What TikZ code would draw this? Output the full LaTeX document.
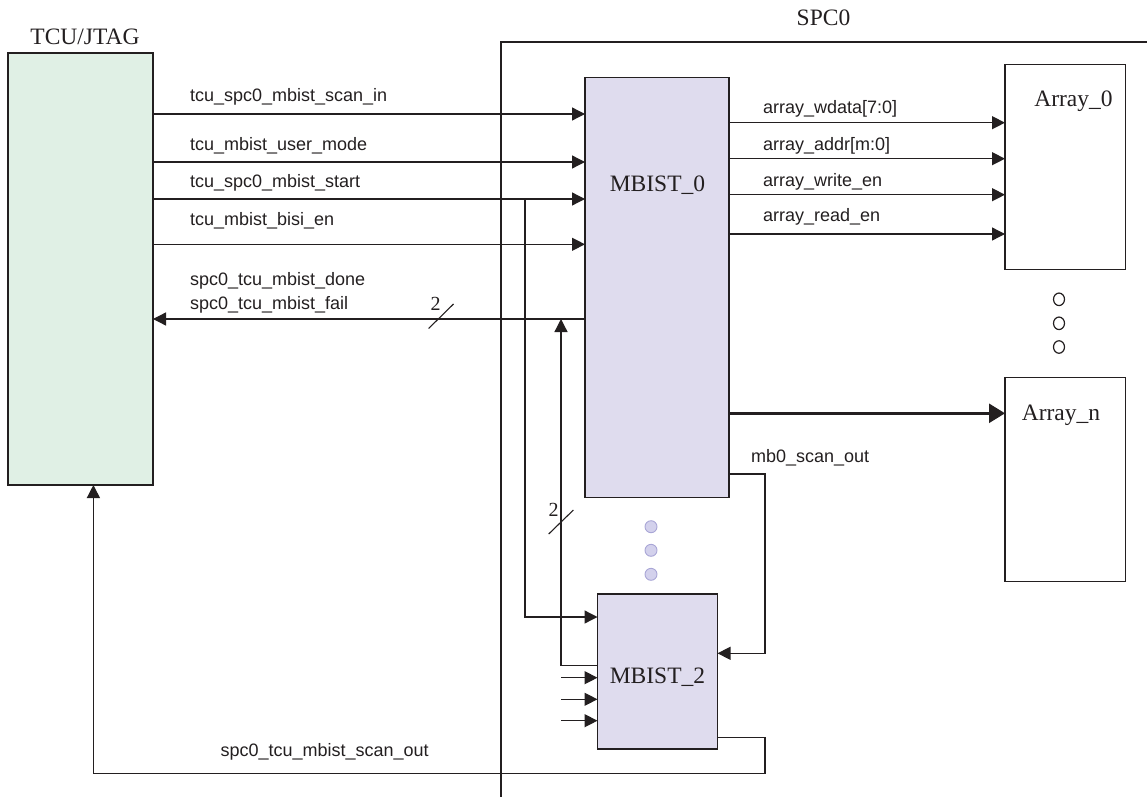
\documentclass[tikz,border=0pt]{standalone}
\usepackage{fontspec}
\setmainfont{Liberation Serif}
\setsansfont{Liberation Sans}
\usetikzlibrary{arrows.meta,shapes.geometric}
\definecolor{tcugreen}{HTML}{E0F0E5}
\definecolor{mbfill}{HTML}{DFDCEE}
\definecolor{dotfill}{HTML}{D3D1EC}
\definecolor{dotline}{HTML}{A9A6D6}
\definecolor{ink}{HTML}{231F20}
\begin{document}
\begin{tikzpicture}[x=1pt,y=-1pt, line width=1.3pt, draw=ink,
  box/.style={draw=ink, line width=1.3pt, inner sep=0pt, outer sep=0pt, anchor=north west},
  ser/.style={font=\fontsize{23.5}{26}\selectfont, inner sep=0pt, text=ink},
  sig/.style={font=\sffamily\fontsize{18}{20}\selectfont, anchor=west, inner sep=0pt, text=ink},
  arr/.style={-{Triangle[length=13pt,width=13pt]}},
  bigarr/.style={line width=2.6pt, -{Triangle[length=16pt,width=19pt]}},
  slash/.style={line width=1.1pt},
  ldot/.style={circle, fill=dotfill, draw=dotline, line width=0.9pt, minimum size=12pt, inner sep=0pt},
  odot/.style={ellipse, draw=ink, line width=1.2pt, minimum width=11pt, minimum height=12.5pt, inner sep=0pt},
]
\useasboundingbox (0,0) rectangle (1147,797);

% SPC0 outline
\draw (1147,42) -- (501,42) -- (501,797);
\node[ser] (spc0lbl) at (823.5,17.5) {SPC0};

% boxes
\node[box, fill=tcugreen, minimum width=145pt, minimum height=432pt] (tcu) at (8,53) {};
\node[ser] (tculbl) at (85,37) {TCU/JTAG};
\node[box, fill=mbfill, minimum width=144pt, minimum height=420pt] (mb0) at (585,77.5) {};
\node[ser] (mb0lbl) at (657.5,185) {MBIST\_0};
\node[box, fill=mbfill, minimum width=120pt, minimum height=155pt] (mb2) at (597.5,594) {};
\node[ser] (mb2lbl) at (657.5,677.5) {MBIST\_2};
\node[box, minimum width=120.5pt, minimum height=205pt] (a0) at (1005,64.5) {};
\node[ser] (a0lbl) at (1073.5,101.5) {Array\_0};
\node[box, minimum width=120.5pt, minimum height=204pt] (an) at (1005,377.5) {};
\node[ser] (anlbl) at (1061,415) {Array\_n};

% inputs to MBIST_0
\draw[arr] (tcu.east |- 0,114) -- (mb0.west |- 0,114);
\draw[arr] (tcu.east |- 0,162) -- (mb0.west |- 0,162);
\draw[arr] (tcu.east |- 0,199) -- (mb0.west |- 0,199);
\draw[arr] (tcu.east |- 0,244.3) -- (mb0.west |- 0,244.3);
\node[sig] (l1) at (189.5,97.3) {tcu\_spc0\_mbist\_scan\_in};
\node[sig] (l2) at (189.5,146) {tcu\_mbist\_user\_mode};
\node[sig] (l3) at (189.5,183) {tcu\_spc0\_mbist\_start};
\node[sig] (l4) at (189.5,221) {tcu\_mbist\_bisi\_en};

% done / fail back to TCU
\draw[arr] (mb0.west |- 0,319) -- (tcu.east |- 0,319);
\node[sig] (l5) at (189.5,281) {spc0\_tcu\_mbist\_done};
\node[sig] (l6) at (189.5,305) {spc0\_tcu\_mbist\_fail};
\draw[slash] (428.6,328.5) -- (453.5,304);
\node[font=\fontsize{20}{22}\selectfont, inner sep=0pt, text=ink] (n2a) at (435.5,304) {2};

% start fan-out to MBIST_2
\coordinate (j1) at (525,199);
\draw[arr] (j1) -- (525,617) -- (mb2.west |- 0,617);
% MBIST_2 done/fail up
\coordinate (j2) at (561,319);
\draw[arr] (mb2.west |- 0,665.7) -- (561,665.7) -- (j2);
\draw[slash] (548.7,534) -- (573.4,510);
\node[font=\fontsize{20}{22}\selectfont, inner sep=0pt, text=ink] (n2b) at (553.6,510) {2};

% other MBIST_2 inputs
\coordinate (i1) at (561,677.7);
\coordinate (i2) at (561,699.3);
\coordinate (i3) at (561,720.7);
\draw[arr] (i1) -- (mb2.west |- i1);
\draw[arr] (i2) -- (mb2.west |- i2);
\draw[arr] (i3) -- (mb2.west |- i3);

% dots between MBISTs
\node[ldot] (d1) at (651,526.7) {};
\node[ldot] (d2) at (651,550.3) {};
\node[ldot] (d3) at (651,574.3) {};

% outputs to Array_0
\draw[arr] (mb0.east |- 0,122.7) -- (a0.west |- 0,122.7);
\draw[arr] (mb0.east |- 0,158.7) -- (a0.west |- 0,158.7);
\draw[arr] (mb0.east |- 0,194.7) -- (a0.west |- 0,194.7);
\draw[arr] (mb0.east |- 0,234) -- (a0.west |- 0,234);
\node[sig] (o1) at (762.5,109) {array\_wdata[7:0]};
\node[sig] (o2) at (762.5,145.7) {array\_addr[m:0]};
\node[sig] (o3) at (762.5,181.7) {array\_write\_en};
\node[sig] (o4) at (762.5,217.3) {array\_read\_en};

% open dots between arrays
\node[odot] (c1) at (1059,299.3) {};
\node[odot] (c2) at (1059,323.3) {};
\node[odot] (c3) at (1059,347) {};

% thick arrow to Array_n
\draw[bigarr] (mb0.east |- 0,413.3) -- (an.west |- 0,413.3);

% mb0_scan_out
\draw[arr] (mb0.east |- 0,474) -- (765,474) -- (765,653.3) -- (mb2.east |- 0,653.3);
\node[sig] (l7) at (750.5,457.3) {mb0\_scan\_out};

% scan out back to TCU
\draw[arr] (mb2.east |- 0,737.3) -- (765,737.3) -- (765,773.7) -- (93.4,773.7) -- (tcu.south -| 93.4,0);
\node[sig] (l8) at (220,751.7) {spc0\_tcu\_mbist\_scan\_out};
\end{tikzpicture}
\end{document}
